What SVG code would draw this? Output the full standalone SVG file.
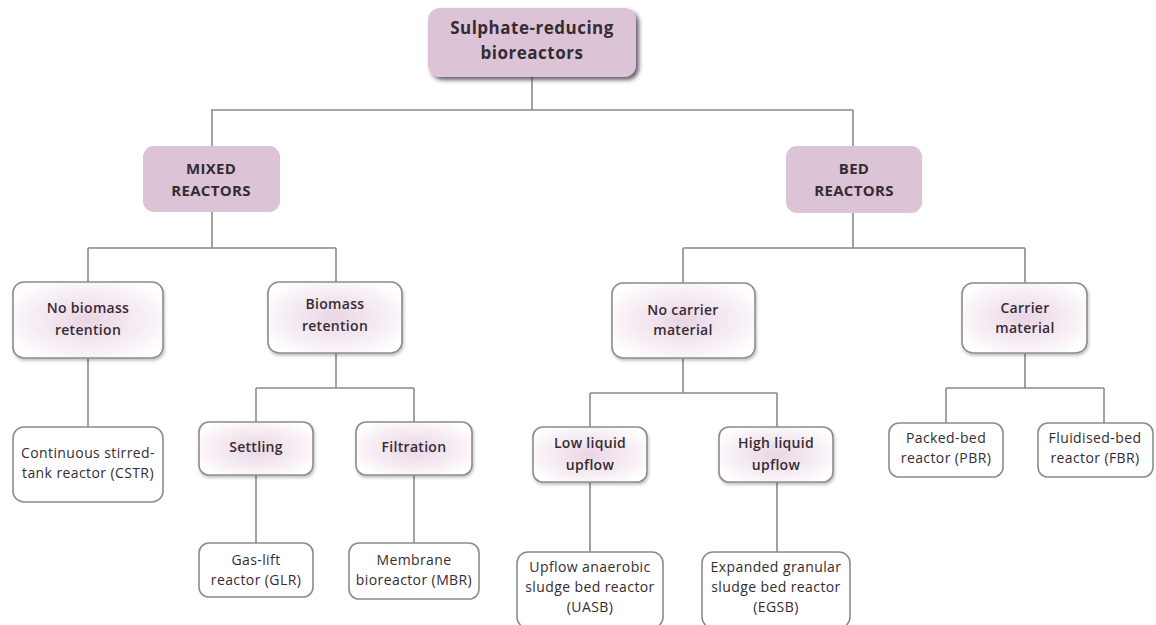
<svg xmlns="http://www.w3.org/2000/svg" width="1156" height="625" viewBox="0 0 1156 625">
<style>
.conn line{stroke:#8a8a8a;stroke-width:1.6;fill:none}
.top{fill:#dcc3d6}
.cat{fill:#dcc3d6}
.mid{fill:url(#midg);stroke:#8c8c8c;stroke-width:1.6}
.leaf{fill:#fff;stroke:#8c8c8c;stroke-width:1.6}
text{font-family:"Open Sans","Liberation Sans",sans-serif;fill:#352c33;text-anchor:middle}
.t1{font-size:17px;font-weight:700;letter-spacing:0.5px}
.t2{font-size:15px;font-weight:700;letter-spacing:0.3px}
.t3{font-size:14px;font-weight:600;letter-spacing:0.3px}
.t4{font-size:14px;letter-spacing:0.4px}
</style>
<defs>
<radialGradient id="midg" cx="0.5" cy="0.5" r="0.6">
<stop offset="0" stop-color="#ead5e5"/>
<stop offset="0.7" stop-color="#f8f1f6"/>
<stop offset="1" stop-color="#ffffff"/>
</radialGradient>
<filter id="sh" x="-10%" y="-10%" width="125%" height="130%">
<feDropShadow dx="3" dy="3" stdDeviation="2" flood-color="#3a2a35" flood-opacity="0.75"/>
</filter>
<filter id="sh2" x="-10%" y="-10%" width="125%" height="130%">
<feDropShadow dx="1" dy="2" stdDeviation="1.5" flood-color="#000" flood-opacity="0.25"/>
</filter>
</defs>
<rect width="1156" height="625" fill="#fff"/>
<g class="conn">
<line x1="532" y1="77" x2="532" y2="110"/>
<line x1="211" y1="110" x2="853" y2="110"/>
<line x1="212" y1="110" x2="212" y2="146"/>
<line x1="853" y1="110" x2="853" y2="146"/>
<line x1="212" y1="212" x2="212" y2="248"/>
<line x1="88" y1="248" x2="336" y2="248"/>
<line x1="88" y1="248" x2="88" y2="282"/>
<line x1="336" y1="248" x2="336" y2="282"/>
<line x1="88" y1="358" x2="88" y2="427"/>
<line x1="336" y1="353" x2="336" y2="388"/>
<line x1="256" y1="388" x2="414" y2="388"/>
<line x1="256" y1="388" x2="256" y2="422"/>
<line x1="414" y1="388" x2="414" y2="422"/>
<line x1="256" y1="475" x2="256" y2="543"/>
<line x1="414" y1="475" x2="414" y2="543"/>
<line x1="853" y1="213" x2="853" y2="248"/>
<line x1="683" y1="248" x2="1025" y2="248"/>
<line x1="683" y1="248" x2="683" y2="283"/>
<line x1="1025" y1="248" x2="1025" y2="283"/>
<line x1="683" y1="358" x2="683" y2="393"/>
<line x1="590" y1="393" x2="777" y2="393"/>
<line x1="590" y1="393" x2="590" y2="427"/>
<line x1="777" y1="393" x2="777" y2="427"/>
<line x1="590" y1="482" x2="590" y2="552"/>
<line x1="777" y1="482" x2="777" y2="552"/>
<line x1="1025" y1="353" x2="1025" y2="388"/>
<line x1="946" y1="388" x2="1104" y2="388"/>
<line x1="946" y1="388" x2="946" y2="423"/>
<line x1="1104" y1="388" x2="1104" y2="423"/>
</g>
<g id="root">
<rect class="top" x="428" y="8" width="208" height="69" rx="12" filter="url(#sh)"/>
<text class="t1" x="532" y="34">Sulphate-reducing</text>
<text class="t1" x="532" y="59">bioreactors</text>
</g>
<g id="mixed">
<rect class="cat" x="143" y="146" width="137" height="66" rx="11"/>
<text class="t2" x="211" y="174">MIXED</text>
<text class="t2" x="211" y="196">REACTORS</text>
</g>
<g id="bed">
<rect class="cat" x="786" y="146" width="136" height="67" rx="11"/>
<text class="t2" x="854" y="174">BED</text>
<text class="t2" x="854" y="196">REACTORS</text>
</g>
<g id="nobiomass">
<rect class="mid" x="13" y="282" width="150" height="76" rx="11" filter="url(#sh2)"/>
<text class="t3" x="88" y="313">No biomass</text>
<text class="t3" x="88" y="335">retention</text>
</g>
<g id="biomass">
<rect class="mid" x="268" y="282" width="134" height="71" rx="11" filter="url(#sh2)"/>
<text class="t3" x="335" y="309">Biomass</text>
<text class="t3" x="335" y="331">retention</text>
</g>
<g id="cstr">
<rect class="leaf" x="13" y="427" width="150" height="75" rx="11"/>
<text class="t4" x="88" y="458">Continuous stirred-</text>
<text class="t4" x="88" y="478">tank reactor (CSTR)</text>
</g>
<g id="settling">
<rect class="mid" x="199" y="422" width="114" height="53" rx="10" filter="url(#sh2)"/>
<text class="t3" x="256" y="452">Settling</text>
</g>
<g id="filtration">
<rect class="mid" x="356" y="422" width="116" height="53" rx="10" filter="url(#sh2)"/>
<text class="t3" x="414" y="452">Filtration</text>
</g>
<g id="glr">
<rect class="leaf" x="199" y="543" width="114" height="54" rx="10"/>
<text class="t4" x="256" y="565">Gas-lift</text>
<text class="t4" x="256" y="585">reactor (GLR)</text>
</g>
<g id="mbr">
<rect class="leaf" x="349" y="543" width="130" height="56" rx="10"/>
<text class="t4" x="414" y="565">Membrane</text>
<text class="t4" x="414" y="585">bioreactor (MBR)</text>
</g>
<g id="nocarrier">
<rect class="mid" x="612" y="283" width="143" height="75" rx="11" filter="url(#sh2)"/>
<text class="t3" x="683" y="315">No carrier</text>
<text class="t3" x="683" y="335">material</text>
</g>
<g id="carrier">
<rect class="mid" x="962" y="283" width="125" height="70" rx="11" filter="url(#sh2)"/>
<text class="t3" x="1025" y="313">Carrier</text>
<text class="t3" x="1025" y="333">material</text>
</g>
<g id="lowflow">
<rect class="mid" x="533" y="427" width="114" height="55" rx="10" filter="url(#sh2)"/>
<text class="t3" x="590" y="448">Low liquid</text>
<text class="t3" x="590" y="470">upflow</text>
</g>
<g id="highflow">
<rect class="mid" x="719" y="427" width="114" height="55" rx="10" filter="url(#sh2)"/>
<text class="t3" x="776" y="448">High liquid</text>
<text class="t3" x="776" y="470">upflow</text>
</g>
<g id="uasb">
<rect class="leaf" x="517" y="552" width="146" height="76" rx="11"/>
<text class="t4" x="590" y="572">Upflow anaerobic</text>
<text class="t4" x="590" y="592">sludge bed reactor</text>
<text class="t4" x="590" y="612">(UASB)</text>
</g>
<g id="egsb">
<rect class="leaf" x="702" y="552" width="148" height="76" rx="11"/>
<text class="t4" x="776" y="572">Expanded granular</text>
<text class="t4" x="776" y="592">sludge bed reactor</text>
<text class="t4" x="776" y="612">(EGSB)</text>
</g>
<g id="pbr">
<rect class="leaf" x="889" y="423" width="114" height="54" rx="10"/>
<text class="t4" x="946" y="443">Packed-bed</text>
<text class="t4" x="946" y="463">reactor (PBR)</text>
</g>
<g id="fbr">
<rect class="leaf" x="1038" y="423" width="115" height="54" rx="10"/>
<text class="t4" x="1095" y="443">Fluidised-bed</text>
<text class="t4" x="1095" y="463">reactor (FBR)</text>
</g>
</svg>
